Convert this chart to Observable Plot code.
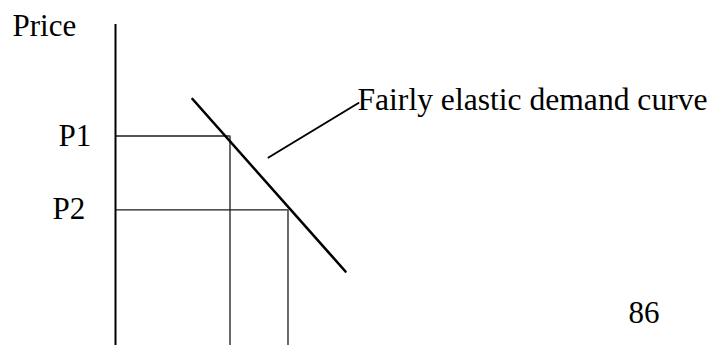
<!DOCTYPE html>
<html>
<head>
<meta charset="utf-8">
<script src="https://cdn.jsdelivr.net/npm/d3@7"></script>
<script src="https://cdn.jsdelivr.net/npm/@observablehq/plot@0.6"></script>
<style>
  html, body { margin: 0; padding: 0; background: #fff; }
  #chart svg { display: block; }
  #chart svg text { font-family: "Liberation Serif", "Times New Roman", serif; }
</style>
</head>
<body>
<div id="chart"></div>
<script>
// Diagram values in "quantity" (horizontal) and "price" (vertical) units
const axisTop = 321;                       // top of price axis
const priceNames = ["P1", "P2"];
const priceLevels = [209.5, 135.7];        // P1, P2
const quantityLevels = [114.5, 172.5];     // quantities demanded at P1, P2
const priceLabelQ = [-57, -63];            // label anchor positions
const priceLabelP = [199.5, 126.5];
const demandQ = [77, 230];                 // demand curve endpoints
const demandP = [246.5, 74];
const pointerQ = [153, 243];               // annotation pointer
const pointerP = [188, 242.5];
const texts = ["Price", "Fairly elastic demand curve", "86"];
const textQ = [-103, 242, 513];
const textP = [310, 236, 23];
const textSizes = [31, 31.6, 31];

const priceRows = priceNames.map((n, i) => ({name: n, p: priceLevels[i], q: quantityLevels[i], lq: priceLabelQ[i], lp: priceLabelP[i]}));
const demand = demandQ.map((q, i) => ({q, p: demandP[i]}));
const pointer = pointerQ.map((q, i) => ({q, p: pointerP[i]}));
const textRows = texts.map((t, i) => ({t, q: textQ[i], p: textP[i], s: textSizes[i]}));

const font = "Liberation Serif";

const chart = Plot.plot({
  width: 710,
  height: 345,
  margin: 0,
  x: {domain: [-115, 595], range: [0, 710], axis: null},
  y: {domain: [0, 345], range: [345, 0], axis: null},
  style: {fontFamily: font, background: "#fff"},
  marks: [
    // horizontal guides from the axis to the demand curve
    Plot.ruleY(priceRows, {y: "p", x1: 0, x2: "q", stroke: "#1a1a1a", strokeWidth: 1.3}),
    // vertical guides from the curve down to the bottom
    Plot.ruleX(priceRows, {x: "q", y1: 0, y2: "p", stroke: "#1a1a1a", strokeWidth: 1.3}),
    // price axis
    Plot.ruleX([0], {y1: 0, y2: axisTop, stroke: "#000", strokeWidth: 2}),
    // demand curve
    Plot.line(demand, {x: "q", y: "p", stroke: "#000", strokeWidth: 2.6}),
    // pointer to annotation
    Plot.line(pointer, {x: "q", y: "p", stroke: "#000", strokeWidth: 2}),
    // price labels
    Plot.text(priceRows, {x: "lq", y: "lp", text: "name", textAnchor: "start", lineAnchor: "bottom", fontSize: 31, fill: "#000", fontFamily: font}),
    // other texts
    ...textRows.map(r => Plot.text([r], {x: "q", y: "p", text: "t", textAnchor: "start", lineAnchor: "bottom", fontSize: r.s, fill: "#000", fontFamily: font}))
  ]
});
document.getElementById("chart").appendChild(chart);
</script>
</body>
</html>
